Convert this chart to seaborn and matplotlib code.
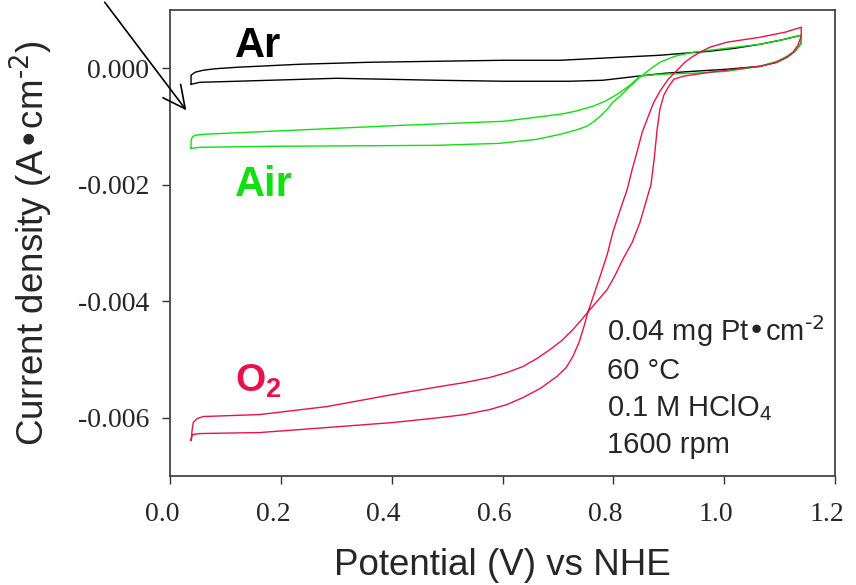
import numpy as np
import pandas as pd
import matplotlib
matplotlib.use("Agg")
import matplotlib.pyplot as plt
from matplotlib.transforms import ScaledTranslation
import seaborn as sns

# potential (V vs NHE) and current density (mA/cm2)
# each curve: forward sweep (up to 1.14 V) then the return sweep
ar_x = [0.038, 0.054, 0.121, 0.301, 0.482, 0.601, 0.722, 0.781, 0.812, 0.843, 0.893, 0.944, 1.005, 1.065,
        1.095, 1.113, 1.128, 1.139,
        1.139, 1.101, 1.065, 1.020, 0.974, 0.929, 0.884, 0.812, 0.704, 0.601, 0.482, 0.361, 0.235, 0.121,
        0.081, 0.060, 0.045, 0.038, 0.038]
ar_y = [-0.275, -0.241, -0.223, -0.172, -0.206, -0.223, -0.223, -0.206, -0.172, -0.137, -0.086, -0.052, -0.017,
        0.034, 0.103, 0.189, 0.292, 0.430,
        0.567, 0.481, 0.412, 0.344, 0.292, 0.258, 0.223, 0.189, 0.137, 0.137, 0.120, 0.103, 0.069, 0.017,
        -0.009, -0.034, -0.069, -0.120, -0.275]

air_x = [0.038, 0.054, 0.180, 0.482, 0.595, 0.662, 0.704, 0.731, 0.752, 0.763, 0.776, 0.789, 0.799, 0.812,
         0.830, 0.848, 0.866, 0.884, 0.911, 0.944, 0.974, 1.020, 1.065, 1.101, 1.139,
         1.139, 1.128, 1.113, 1.095, 1.065, 1.005, 0.944, 0.884, 0.866, 0.848, 0.830, 0.807, 0.785, 0.763,
         0.731, 0.704, 0.601, 0.420, 0.180, 0.060, 0.045, 0.040, 0.038, 0.038]
air_y = [-1.375, -1.357, -1.340, -1.323, -1.289, -1.220, -1.134, -1.065, -0.997, -0.928, -0.825, -0.704, -0.584,
         -0.481, -0.309, -0.155, -0.017, 0.103, 0.206, 0.275, 0.309, 0.361, 0.412, 0.481, 0.567,
         0.430, 0.292, 0.206, 0.120, 0.034, -0.052, -0.086, -0.103, -0.120, -0.137, -0.292, -0.447, -0.567,
         -0.653, -0.739, -0.790, -0.911, -0.979, -1.082, -1.134, -1.151, -1.186, -1.254, -1.375]

o2_x = [0.038, 0.040, 0.054, 0.162, 0.283, 0.402, 0.487, 0.532, 0.577, 0.608, 0.637, 0.668, 0.698, 0.715,
        0.727, 0.738, 0.747, 0.754, 0.765, 0.776, 0.789, 0.799, 0.812, 0.825, 0.834, 0.843, 0.852, 0.863,
        0.873, 0.884, 0.899, 0.915, 0.929, 0.944, 0.960, 0.974, 1.005, 1.065, 1.110, 1.139,
        1.139, 1.133, 1.124, 1.113, 1.095, 1.065, 1.034, 0.974, 0.926, 0.909, 0.899, 0.891, 0.884, 0.879,
        0.874, 0.868, 0.848, 0.834, 0.817, 0.803, 0.789, 0.772, 0.758, 0.743, 0.727, 0.707, 0.686, 0.662,
        0.637, 0.608, 0.577, 0.532, 0.487, 0.402, 0.283, 0.162, 0.060, 0.049, 0.042, 0.040, 0.038]
o2_y = [-6.392, -6.289, -6.271, -6.254, -6.168, -6.082, -5.997, -5.945, -5.859, -5.773, -5.653, -5.498, -5.292,
        -5.137, -4.948, -4.708, -4.433, -4.192, -3.883, -3.574, -3.196, -2.818, -2.440, -2.079, -1.735, -1.426,
        -1.100, -0.825, -0.584, -0.395, -0.189, -0.034, 0.103, 0.206, 0.292, 0.361, 0.447, 0.533, 0.619, 0.704,
        0.550, 0.395, 0.275, 0.189, 0.103, 0.034, 0.000, -0.069, -0.137, -0.189, -0.326, -0.464, -0.704, -1.048,
        -1.529, -1.993, -2.646, -2.990, -3.282, -3.557, -3.797, -3.986, -4.141, -4.313, -4.485, -4.674, -4.828,
        -4.983, -5.120, -5.223, -5.309, -5.395, -5.464, -5.601, -5.808, -5.945, -5.979, -6.014, -6.082, -6.203,
        -6.392]

xticks = [0.0, 0.2, 0.4, 0.6, 0.8, 1.0, 1.2]
yticks = [0.0, -0.002, -0.004, -0.006]
conditions = ["0.04 mg Pt\u2022cm$^{\\text{-2}}$", "60 \u00b0C", "0.1 M HClO$_4$", "1600 rpm"]

sns.set_style("white")
plt.rcParams["font.family"] = ["Liberation Sans", "DejaVu Sans"]
plt.rcParams["mathtext.default"] = "regular"
plt.rcParams["axes.unicode_minus"] = False

fig = plt.figure(figsize=(8.56, 5.85), dpi=100)
ax = fig.add_axes([0.1986, 0.1863, 0.7769, 0.7966])

curves = [("Ar", ar_x, ar_y, "black"), ("Air", air_x, air_y, "#10e010"), ("O2", o2_x, o2_y, "#e5134b")]
for name, xs, ys, col in curves:
    d = pd.DataFrame({"E": xs, "j": np.array(ys) / 1000.0})
    sns.lineplot(data=d, x="E", y="j", sort=False, estimator=None, color=col, lw=1.0, ax=ax)

ax.set_xlim(0, 1.2)
ax.set_ylim(-0.0070, 0.0010)
ax.set_xticks(xticks)
ax.set_yticks(yticks)
ax.set_xticklabels([f"{v:.1f}" for v in xticks], family="Liberation Serif", fontsize=20)
ax.set_yticklabels([f"{v:.3f}" for v in yticks], family="Liberation Serif", fontsize=20)
ax.tick_params(direction="out", length=6, width=1, color="#333333",
               bottom=True, left=True, top=False, right=False)
ax.tick_params(axis="x", pad=13)
ax.tick_params(axis="y", pad=9)
shift = ScaledTranslation(-0.08, 0, fig.dpi_scale_trans)
for lab in ax.get_xticklabels():
    lab.set_transform(lab.get_transform() + shift)
for s in ax.spines.values():
    s.set_color("#444444")
    s.set_linewidth(1.3)

ax.set_xlabel("Potential (V) vs NHE", fontsize=26.5, labelpad=15)
ax.set_ylabel("Current density (A\u2022cm$^{\\text{-2}}$)", fontsize=26.5, labelpad=17)

ax.text(0.117, 0.00019, "Ar", fontsize=30, fontweight="bold", color="black", va="baseline")
ax.text(0.117, -0.00220, "Air", fontsize=30, fontweight="bold", color="#10e010", va="baseline")
ax.text(0.117, -0.00555, "O$_2$", fontsize=28, fontweight="bold", color="#e5134b", va="baseline")

for i, t in enumerate(conditions):
    ax.text(0.789, -0.00469 - i * 0.00064, t, fontsize=21, va="baseline")

ax.annotate("", xy=(0.0325, -0.00076), xytext=(103 / 856, 1.0), textcoords="figure fraction",
            arrowprops=dict(arrowstyle="->", lw=1.2, color="black", mutation_scale=40),
            annotation_clip=False)

fig.savefig("out.png", dpi=100)
